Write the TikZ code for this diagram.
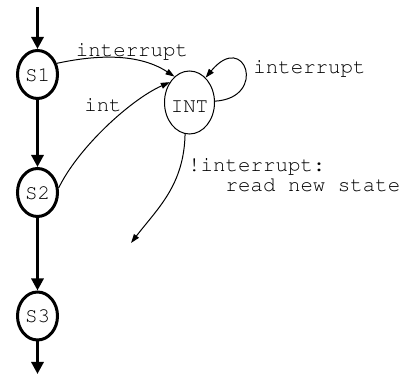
\documentclass[tikz,border=0pt]{standalone}
\usepackage[T1]{fontenc}
\usepackage{courier}
\usetikzlibrary{arrows.meta,shapes.geometric}
\begin{document}
\begin{tikzpicture}[x=1pt,y=-1pt,
  font=\ttfamily\fontsize{20.8}{20}\selectfont,
  state/.style={ellipse, draw, line width=3pt, minimum width=40pt, minimum height=48pt, inner sep=0pt, text height=14pt, text depth=0pt},
  intstate/.style={ellipse, draw, line width=1pt, minimum width=50pt, minimum height=63pt, inner sep=0pt, inner xsep=-1.2pt, text height=21pt, text depth=0pt},
  thickarrow/.style={line width=3pt, -{Triangle[length=12pt,width=12pt]}},
  thinarrow/.style={line width=1pt, -{Triangle[length=9pt,width=6pt]}},
  lbl/.style={inner sep=0pt, anchor=base}]
\useasboundingbox (0,0) rectangle (408,374);
\node[state] (S1) at (37.5,74.5) {S1};
\node[state] (S2) at (37.5,192.5) {S2};
\node[state] (S3) at (37.5,316) {S3};
\node[intstate] (INT) at (189.5,102.5) {INT};
\coordinate (top) at (37.5,7);
\coordinate (bot) at (37.5,374);
\coordinate (read) at (131,243);
\draw[thickarrow] (top) -- (S1);
\draw[thickarrow] (S1) -- (S2);
\draw[thickarrow] (S2) -- (S3);
\draw[thickarrow] (S3) -- (bot);
\draw[thinarrow] (S1.30) .. controls (100,54) and (140,54) .. (INT.120);
\draw[thinarrow] (S2.12) .. controls (78,148) and (130,100) .. (INT.134);
\draw[thinarrow] (INT.3) .. controls (268,98) and (245,30) .. (INT.57);
\draw[thinarrow] (INT.262) .. controls (184,185) and (158,208) .. (read);
\node[lbl] (l1) at (132,57) {interrupt};
\node[lbl] (l2) at (309.5,74) {interrupt};
\node[lbl] (l3) at (103,112) {int};
\node[inner sep=0pt, anchor=base west, align=left] (l4) at (188,192) {!interrupt:\\\hphantom{xxx}read new state};
\end{tikzpicture}
\end{document}
